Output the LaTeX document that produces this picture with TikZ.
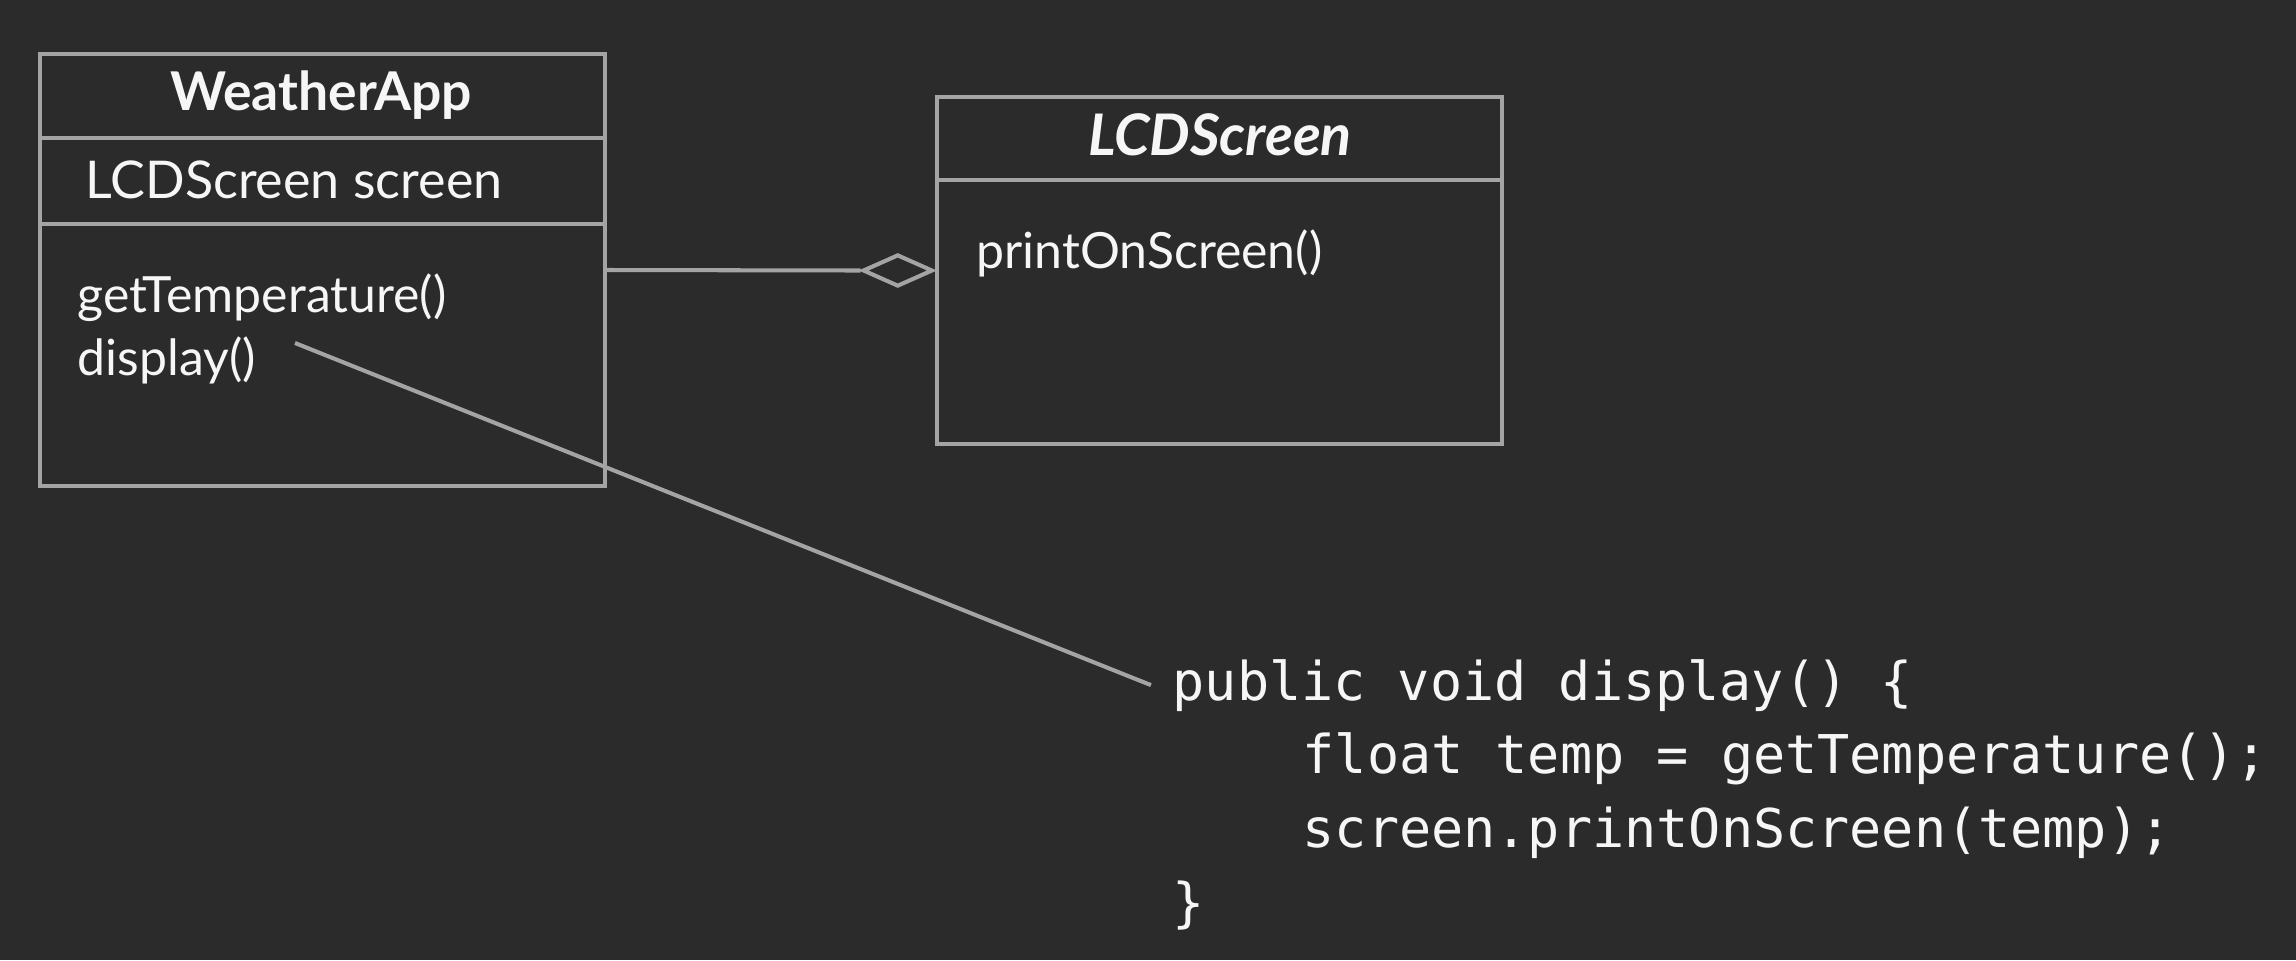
\documentclass[tikz,border=0pt]{standalone}
\usepackage{fontspec}
\setmainfont{Lato}
\newfontfamily\codefont{DejaVu Sans Mono}
\usetikzlibrary{shapes.geometric}
\definecolor{bg}{HTML}{2B2B2B}
\definecolor{ln}{HTML}{A4A4A4}
\definecolor{tx}{HTML}{F6F6F6}
\tikzset{
  boxline/.style={draw=ln, line width=1.15pt},
  classbox/.style={boxline, rectangle, inner sep=0pt, minimum width=5.65cm},
  txt/.style={text=tx, inner sep=0pt, anchor=base west, font=\fontsize{14.2}{16}\selectfont},
  ttl/.style={text=tx, inner sep=0pt, anchor=base, font=\fontsize{15.2}{18}\selectfont\bfseries},
  code/.style={text=tx, inner sep=0pt, anchor=base west, font=\fontsize{15.2}{18}\selectfont\codefont},
}
\begin{document}
\begin{tikzpicture}[x=0.01cm, y=-0.01cm]
\fill[bg] (0,0) rectangle (2296,960);
\useasboundingbox (0,0) rectangle (2296,960);
% WeatherApp class
\node[classbox, minimum height=4.32cm] (wa) at (322.5,270) {};
\draw[boxline] (wa.west |- 0,138) -- (wa.east |- 0,138);
\draw[boxline] (wa.west |- 0,224) -- (wa.east |- 0,224);
\node[ttl] (waT) at (321,110) {WeatherApp};
\node[txt, font=\fontsize{14.8}{16}\selectfont] (waA) at (85,198) {LCDScreen screen};
\node[txt] (waM1) at (77,312) {getTemperature()};
\node[txt] (waM2) at (77,375) {display()};
% LCDScreen class
\node[classbox, minimum height=3.47cm] (lcd) at (1219.5,270.5) {};
\draw[boxline] (lcd.west |- 0,180) -- (lcd.east |- 0,180);
\node[ttl, font=\fontsize{16.3}{18}\selectfont\bfseries\itshape] (lcdT) at (1220,155) {LCDScreen};
\node[txt] (lcdM) at (976,268) {printOnScreen()};
% aggregation
\node[diamond, boxline, fill=bg, minimum width=0.7cm, minimum height=0.32cm, inner sep=0pt, anchor=east] (dia) at (lcd.west) {};
\draw[boxline] (wa.east) -- (dia.west);
% code
\node[code] (c1) at (1172,700) {public void display() \{};
\node[code] (c2) at (1302,773) {float temp = getTemperature();};
\node[code] (c3) at (1302,847) {screen.printOnScreen(temp);};
\node[code] (c4) at (1172,921) {\}};
\coordinate (dstart) at (295,343);
\draw[boxline] (dstart) -- ([xshift=-0.21cm]c1.west);
\end{tikzpicture}
\end{document}
